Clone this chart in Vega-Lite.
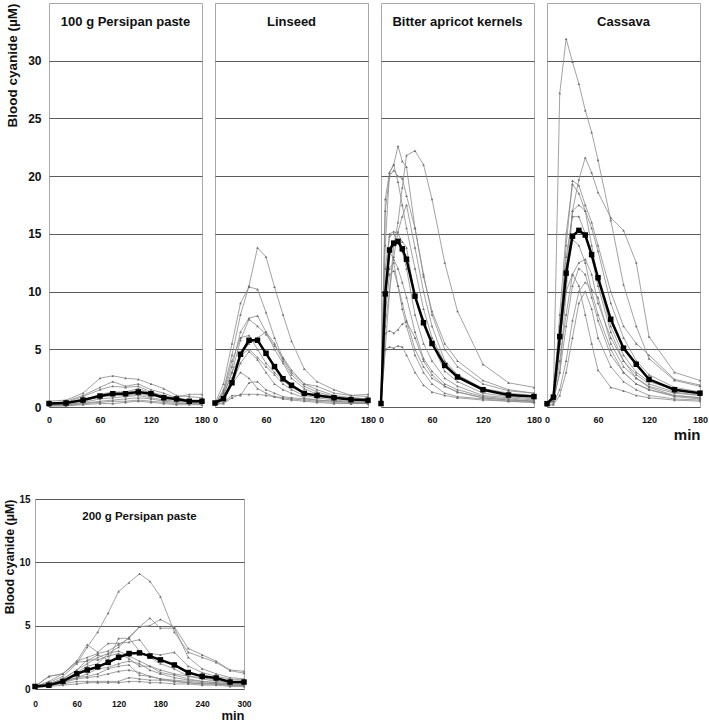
{
"$schema":"https://vega.github.io/schema/vega-lite/v6.json",
"padding":{"left":3,"top":2,"right":5,"bottom":0},
"datasets":{
"p1":[
{"s":"a","t":0,"v":0.5},{"s":"a","t":20,"v":0.6},{"s":"a","t":40,"v":1.2},{"s":"a","t":60,"v":2.5},{"s":"a","t":75,"v":2.7},{"s":"a","t":90,"v":2.5},{"s":"a","t":105,"v":2.4},{"s":"a","t":120,"v":2.0},{"s":"a","t":135,"v":1.6},{"s":"a","t":150,"v":1.0},{"s":"a","t":165,"v":0.9},{"s":"a","t":180,"v":0.8},
{"s":"b","t":0,"v":0.3},{"s":"b","t":20,"v":0.5},{"s":"b","t":40,"v":1.0},{"s":"b","t":60,"v":1.7},{"s":"b","t":75,"v":2.2},{"s":"b","t":90,"v":1.8},{"s":"b","t":105,"v":2.0},{"s":"b","t":120,"v":1.5},{"s":"b","t":135,"v":1.2},{"s":"b","t":150,"v":0.8},{"s":"b","t":165,"v":1.1},{"s":"b","t":180,"v":1.1},
{"s":"c","t":0,"v":0.3},{"s":"c","t":20,"v":0.4},{"s":"c","t":40,"v":0.9},{"s":"c","t":60,"v":1.5},{"s":"c","t":75,"v":1.8},{"s":"c","t":90,"v":1.7},{"s":"c","t":105,"v":1.8},{"s":"c","t":120,"v":1.3},{"s":"c","t":135,"v":1.0},{"s":"c","t":150,"v":0.7},{"s":"c","t":165,"v":0.6},{"s":"c","t":180,"v":0.6},
{"s":"d","t":0,"v":0.2},{"s":"d","t":20,"v":0.3},{"s":"d","t":40,"v":0.6},{"s":"d","t":60,"v":1.1},{"s":"d","t":75,"v":1.3},{"s":"d","t":90,"v":1.3},{"s":"d","t":105,"v":1.6},{"s":"d","t":120,"v":1.2},{"s":"d","t":135,"v":0.9},{"s":"d","t":150,"v":0.8},{"s":"d","t":165,"v":0.6},{"s":"d","t":180,"v":0.5},
{"s":"e","t":0,"v":0.2},{"s":"e","t":20,"v":0.3},{"s":"e","t":40,"v":0.5},{"s":"e","t":60,"v":0.9},{"s":"e","t":75,"v":1.0},{"s":"e","t":90,"v":1.0},{"s":"e","t":105,"v":1.1},{"s":"e","t":120,"v":1.0},{"s":"e","t":135,"v":0.8},{"s":"e","t":150,"v":0.7},{"s":"e","t":165,"v":0.5},{"s":"e","t":180,"v":0.5},
{"s":"f","t":0,"v":0.2},{"s":"f","t":20,"v":0.2},{"s":"f","t":40,"v":0.4},{"s":"f","t":60,"v":0.7},{"s":"f","t":75,"v":0.8},{"s":"f","t":90,"v":0.9},{"s":"f","t":105,"v":1.0},{"s":"f","t":120,"v":0.8},{"s":"f","t":135,"v":0.6},{"s":"f","t":150,"v":0.5},{"s":"f","t":165,"v":0.4},{"s":"f","t":180,"v":0.4},
{"s":"g","t":0,"v":0.1},{"s":"g","t":20,"v":0.2},{"s":"g","t":40,"v":0.3},{"s":"g","t":60,"v":0.5},{"s":"g","t":75,"v":0.6},{"s":"g","t":90,"v":0.7},{"s":"g","t":105,"v":0.8},{"s":"g","t":120,"v":0.7},{"s":"g","t":135,"v":0.5},{"s":"g","t":150,"v":0.4},{"s":"g","t":165,"v":0.3},{"s":"g","t":180,"v":0.3},
{"s":"h","t":0,"v":0.1},{"s":"h","t":20,"v":0.1},{"s":"h","t":40,"v":0.3},{"s":"h","t":60,"v":0.4},{"s":"h","t":75,"v":0.5},{"s":"h","t":90,"v":0.5},{"s":"h","t":105,"v":0.6},{"s":"h","t":120,"v":0.5},{"s":"h","t":135,"v":0.4},{"s":"h","t":150,"v":0.3},{"s":"h","t":165,"v":0.3},{"s":"h","t":180,"v":0.2},
{"s":"i","t":0,"v":0.2},{"s":"i","t":20,"v":0.3},{"s":"i","t":40,"v":0.6},{"s":"i","t":60,"v":0.9},{"s":"i","t":75,"v":1.0},{"s":"i","t":90,"v":1.3},{"s":"i","t":105,"v":1.4},{"s":"i","t":120,"v":1.0},{"s":"i","t":135,"v":0.9},{"s":"i","t":150,"v":0.6},{"s":"i","t":165,"v":0.5},{"s":"i","t":180,"v":0.4},
{"s":"j","t":0,"v":0.1},{"s":"j","t":20,"v":0.1},{"s":"j","t":40,"v":0.2},{"s":"j","t":60,"v":0.3},{"s":"j","t":75,"v":0.3},{"s":"j","t":90,"v":0.4},{"s":"j","t":105,"v":0.5},{"s":"j","t":120,"v":0.4},{"s":"j","t":135,"v":0.3},{"s":"j","t":150,"v":0.2},{"s":"j","t":165,"v":0.2},{"s":"j","t":180,"v":0.2},
{"s":"M","t":0,"v":0.3},{"s":"M","t":20,"v":0.35},{"s":"M","t":40,"v":0.6},{"s":"M","t":60,"v":0.95},{"s":"M","t":75,"v":1.15},{"s":"M","t":90,"v":1.15},{"s":"M","t":105,"v":1.3},{"s":"M","t":120,"v":1.15},{"s":"M","t":135,"v":0.8},{"s":"M","t":150,"v":0.7},{"s":"M","t":165,"v":0.5},{"s":"M","t":180,"v":0.5}
],
"p2":[
{"s":"a","t":0,"v":0.2},{"s":"a","t":10,"v":1.5},{"s":"a","t":20,"v":4.5},{"s":"a","t":30,"v":8.0},{"s":"a","t":40,"v":10.5},{"s":"a","t":50,"v":13.8},{"s":"a","t":60,"v":13.0},{"s":"a","t":70,"v":10.4},{"s":"a","t":80,"v":8.0},{"s":"a","t":90,"v":5.7},{"s":"a","t":105,"v":3.3},{"s":"a","t":120,"v":2.2},{"s":"a","t":140,"v":1.5},{"s":"a","t":160,"v":1.0},{"s":"a","t":180,"v":0.9},
{"s":"b","t":0,"v":0.3},{"s":"b","t":10,"v":2.0},{"s":"b","t":20,"v":5.5},{"s":"b","t":30,"v":9.0},{"s":"b","t":40,"v":10.4},{"s":"b","t":50,"v":10.2},{"s":"b","t":60,"v":8.2},{"s":"b","t":70,"v":6.0},{"s":"b","t":80,"v":4.2},{"s":"b","t":90,"v":3.0},{"s":"b","t":105,"v":2.0},{"s":"b","t":120,"v":1.8},{"s":"b","t":140,"v":1.2},{"s":"b","t":160,"v":1.0},{"s":"b","t":180,"v":1.1},
{"s":"c","t":0,"v":0.3},{"s":"c","t":10,"v":1.2},{"s":"c","t":20,"v":3.5},{"s":"c","t":30,"v":6.5},{"s":"c","t":40,"v":7.7},{"s":"c","t":50,"v":7.9},{"s":"c","t":60,"v":6.5},{"s":"c","t":70,"v":5.0},{"s":"c","t":80,"v":3.8},{"s":"c","t":90,"v":2.5},{"s":"c","t":105,"v":1.6},{"s":"c","t":120,"v":1.1},{"s":"c","t":140,"v":0.9},{"s":"c","t":160,"v":0.8},{"s":"c","t":180,"v":0.7},
{"s":"d","t":0,"v":0.2},{"s":"d","t":10,"v":1.0},{"s":"d","t":20,"v":3.0},{"s":"d","t":30,"v":5.8},{"s":"d","t":40,"v":7.6},{"s":"d","t":50,"v":7.0},{"s":"d","t":60,"v":6.3},{"s":"d","t":70,"v":5.3},{"s":"d","t":80,"v":4.3},{"s":"d","t":90,"v":3.2},{"s":"d","t":105,"v":2.0},{"s":"d","t":120,"v":1.5},{"s":"d","t":140,"v":1.0},{"s":"d","t":160,"v":0.8},{"s":"d","t":180,"v":0.7},
{"s":"e","t":0,"v":0.2},{"s":"e","t":10,"v":0.8},{"s":"e","t":20,"v":2.5},{"s":"e","t":30,"v":4.5},{"s":"e","t":40,"v":5.5},{"s":"e","t":50,"v":6.0},{"s":"e","t":60,"v":6.5},{"s":"e","t":70,"v":5.5},{"s":"e","t":80,"v":4.0},{"s":"e","t":90,"v":2.8},{"s":"e","t":105,"v":1.8},{"s":"e","t":120,"v":1.3},{"s":"e","t":140,"v":0.9},{"s":"e","t":160,"v":0.7},{"s":"e","t":180,"v":0.6},
{"s":"f","t":0,"v":0.3},{"s":"f","t":10,"v":1.0},{"s":"f","t":20,"v":3.0},{"s":"f","t":30,"v":4.5},{"s":"f","t":40,"v":5.0},{"s":"f","t":50,"v":4.3},{"s":"f","t":60,"v":3.5},{"s":"f","t":70,"v":2.8},{"s":"f","t":80,"v":2.0},{"s":"f","t":90,"v":1.5},{"s":"f","t":105,"v":1.0},{"s":"f","t":120,"v":0.8},{"s":"f","t":140,"v":0.6},{"s":"f","t":160,"v":0.5},{"s":"f","t":180,"v":0.4},
{"s":"g","t":0,"v":0.2},{"s":"g","t":10,"v":0.7},{"s":"g","t":20,"v":2.0},{"s":"g","t":30,"v":3.8},{"s":"g","t":40,"v":4.8},{"s":"g","t":50,"v":4.1},{"s":"g","t":60,"v":3.0},{"s":"g","t":70,"v":2.0},{"s":"g","t":80,"v":1.5},{"s":"g","t":90,"v":1.2},{"s":"g","t":105,"v":0.8},{"s":"g","t":120,"v":0.6},{"s":"g","t":140,"v":0.5},{"s":"g","t":160,"v":0.4},{"s":"g","t":180,"v":0.3},
{"s":"h","t":0,"v":0.2},{"s":"h","t":10,"v":0.6},{"s":"h","t":20,"v":2.0},{"s":"h","t":30,"v":3.0},{"s":"h","t":40,"v":2.5},{"s":"h","t":50,"v":1.6},{"s":"h","t":60,"v":1.2},{"s":"h","t":70,"v":0.9},{"s":"h","t":80,"v":0.7},{"s":"h","t":90,"v":0.6},{"s":"h","t":105,"v":0.5},{"s":"h","t":120,"v":0.4},{"s":"h","t":140,"v":0.3},{"s":"h","t":160,"v":0.3},{"s":"h","t":180,"v":0.3},
{"s":"i","t":0,"v":0.2},{"s":"i","t":10,"v":0.4},{"s":"i","t":20,"v":1.0},{"s":"i","t":30,"v":1.0},{"s":"i","t":40,"v":2.1},{"s":"i","t":50,"v":2.2},{"s":"i","t":60,"v":1.5},{"s":"i","t":70,"v":1.2},{"s":"i","t":80,"v":0.9},{"s":"i","t":90,"v":0.8},{"s":"i","t":105,"v":0.7},{"s":"i","t":120,"v":0.6},{"s":"i","t":140,"v":0.5},{"s":"i","t":160,"v":0.4},{"s":"i","t":180,"v":0.4},
{"s":"j","t":0,"v":0.2},{"s":"j","t":10,"v":0.3},{"s":"j","t":20,"v":0.8},{"s":"j","t":30,"v":1.1},{"s":"j","t":40,"v":1.1},{"s":"j","t":50,"v":1.1},{"s":"j","t":60,"v":1.0},{"s":"j","t":70,"v":0.9},{"s":"j","t":80,"v":0.8},{"s":"j","t":90,"v":0.7},{"s":"j","t":105,"v":0.6},{"s":"j","t":120,"v":0.5},{"s":"j","t":140,"v":0.4},{"s":"j","t":160,"v":0.3},{"s":"j","t":180,"v":0.3},
{"s":"k","t":0,"v":0.3},{"s":"k","t":10,"v":1.3},{"s":"k","t":20,"v":4.0},{"s":"k","t":30,"v":6.0},{"s":"k","t":40,"v":6.2},{"s":"k","t":50,"v":5.0},{"s":"k","t":60,"v":3.8},{"s":"k","t":70,"v":3.0},{"s":"k","t":80,"v":2.3},{"s":"k","t":90,"v":1.7},{"s":"k","t":105,"v":1.2},{"s":"k","t":120,"v":1.0},{"s":"k","t":140,"v":0.8},{"s":"k","t":160,"v":0.6},{"s":"k","t":180,"v":0.5},
{"s":"M","t":0,"v":0.35},{"s":"M","t":10,"v":0.72},{"s":"M","t":20,"v":2.1},{"s":"M","t":30,"v":4.57},{"s":"M","t":40,"v":5.78},{"s":"M","t":50,"v":5.78},{"s":"M","t":60,"v":4.65},{"s":"M","t":70,"v":3.5},{"s":"M","t":80,"v":2.45},{"s":"M","t":90,"v":1.88},{"s":"M","t":105,"v":1.18},{"s":"M","t":120,"v":1.0},{"s":"M","t":140,"v":0.8},{"s":"M","t":160,"v":0.64},{"s":"M","t":180,"v":0.58}
],
"p3":[
{"s":"a","t":0,"v":0.3},{"s":"a","t":5,"v":5},{"s":"a","t":10,"v":10},{"s":"a","t":15,"v":14},{"s":"a","t":20,"v":16},{"s":"a","t":25,"v":19},{"s":"a","t":30,"v":21.8},{"s":"a","t":40,"v":22.2},{"s":"a","t":50,"v":21.0},{"s":"a","t":60,"v":18.0},{"s":"a","t":75,"v":12.5},{"s":"a","t":90,"v":8.3},{"s":"a","t":120,"v":3.7},{"s":"a","t":150,"v":2.1},{"s":"a","t":180,"v":1.7},
{"s":"b","t":0,"v":0.3},{"s":"b","t":5,"v":14},{"s":"b","t":10,"v":20.3},{"s":"b","t":15,"v":21.0},{"s":"b","t":20,"v":22.6},{"s":"b","t":25,"v":21.3},{"s":"b","t":30,"v":20.8},{"s":"b","t":40,"v":15.5},{"s":"b","t":50,"v":11.5},{"s":"b","t":60,"v":8.0},{"s":"b","t":75,"v":5.0},{"s":"b","t":90,"v":3.5},{"s":"b","t":120,"v":2.0},{"s":"b","t":150,"v":1.4},{"s":"b","t":180,"v":1.2},
{"s":"c","t":0,"v":0.3},{"s":"c","t":5,"v":18},{"s":"c","t":10,"v":20.3},{"s":"c","t":15,"v":21.0},{"s":"c","t":20,"v":19.5},{"s":"c","t":25,"v":17.5},{"s":"c","t":30,"v":15.5},{"s":"c","t":40,"v":12.0},{"s":"c","t":50,"v":8.5},{"s":"c","t":60,"v":6.0},{"s":"c","t":75,"v":3.8},{"s":"c","t":90,"v":2.7},{"s":"c","t":120,"v":1.6},{"s":"c","t":150,"v":1.2},{"s":"c","t":180,"v":1.0},
{"s":"d","t":0,"v":0.3},{"s":"d","t":5,"v":17},{"s":"d","t":10,"v":20.0},{"s":"d","t":15,"v":20.5},{"s":"d","t":20,"v":20.0},{"s":"d","t":25,"v":19.8},{"s":"d","t":30,"v":18.3},{"s":"d","t":40,"v":15.5},{"s":"d","t":50,"v":11.3},{"s":"d","t":60,"v":8.3},{"s":"d","t":75,"v":5.5},{"s":"d","t":90,"v":4.0},{"s":"d","t":120,"v":2.3},{"s":"d","t":150,"v":1.5},{"s":"d","t":180,"v":1.2},
{"s":"e","t":0,"v":0.3},{"s":"e","t":5,"v":10},{"s":"e","t":10,"v":15},{"s":"e","t":15,"v":15.2},{"s":"e","t":20,"v":15.0},{"s":"e","t":25,"v":14.3},{"s":"e","t":30,"v":13.8},{"s":"e","t":40,"v":9.5},{"s":"e","t":50,"v":7.6},{"s":"e","t":60,"v":5.5},{"s":"e","t":75,"v":3.1},{"s":"e","t":90,"v":2.2},{"s":"e","t":120,"v":1.2},{"s":"e","t":150,"v":0.9},{"s":"e","t":180,"v":0.7},
{"s":"f","t":0,"v":0.3},{"s":"f","t":5,"v":12},{"s":"f","t":10,"v":14.8},{"s":"f","t":15,"v":15},{"s":"f","t":20,"v":14.2},{"s":"f","t":25,"v":13.5},{"s":"f","t":30,"v":12.0},{"s":"f","t":40,"v":8.0},{"s":"f","t":50,"v":5.5},{"s":"f","t":60,"v":4.0},{"s":"f","t":75,"v":2.5},{"s":"f","t":90,"v":1.8},{"s":"f","t":120,"v":1.0},{"s":"f","t":150,"v":0.8},{"s":"f","t":180,"v":0.6},
{"s":"g","t":0,"v":0.3},{"s":"g","t":5,"v":9},{"s":"g","t":10,"v":13.5},{"s":"g","t":15,"v":12.8},{"s":"g","t":20,"v":12.0},{"s":"g","t":25,"v":10.8},{"s":"g","t":30,"v":9.5},{"s":"g","t":40,"v":6.5},{"s":"g","t":50,"v":4.2},{"s":"g","t":60,"v":3.1},{"s":"g","t":75,"v":2.0},{"s":"g","t":90,"v":1.5},{"s":"g","t":120,"v":0.9},{"s":"g","t":150,"v":0.7},{"s":"g","t":180,"v":0.5},
{"s":"h","t":0,"v":0.3},{"s":"h","t":5,"v":8},{"s":"h","t":10,"v":11.5},{"s":"h","t":15,"v":11.8},{"s":"h","t":20,"v":10.5},{"s":"h","t":25,"v":9.0},{"s":"h","t":30,"v":7.5},{"s":"h","t":40,"v":5.0},{"s":"h","t":50,"v":3.5},{"s":"h","t":60,"v":2.5},{"s":"h","t":75,"v":1.8},{"s":"h","t":90,"v":1.3},{"s":"h","t":120,"v":0.8},{"s":"h","t":150,"v":0.6},{"s":"h","t":180,"v":0.5},
{"s":"i","t":0,"v":0.3},{"s":"i","t":5,"v":6.4},{"s":"i","t":10,"v":6.6},{"s":"i","t":15,"v":6.4},{"s":"i","t":20,"v":6.7},{"s":"i","t":25,"v":7.2},{"s":"i","t":30,"v":7.4},{"s":"i","t":40,"v":6.0},{"s":"i","t":50,"v":4.0},{"s":"i","t":60,"v":2.8},{"s":"i","t":75,"v":1.8},{"s":"i","t":90,"v":1.3},{"s":"i","t":120,"v":0.8},{"s":"i","t":150,"v":0.6},{"s":"i","t":180,"v":0.5},
{"s":"j","t":0,"v":0.3},{"s":"j","t":5,"v":5.0},{"s":"j","t":10,"v":5.2},{"s":"j","t":15,"v":5.1},{"s":"j","t":20,"v":5.3},{"s":"j","t":25,"v":5.2},{"s":"j","t":30,"v":4.5},{"s":"j","t":40,"v":3.0},{"s":"j","t":50,"v":1.9},{"s":"j","t":60,"v":1.3},{"s":"j","t":75,"v":1.0},{"s":"j","t":90,"v":0.8},{"s":"j","t":120,"v":0.6},{"s":"j","t":150,"v":0.5},{"s":"j","t":180,"v":0.4},
{"s":"k","t":0,"v":0.3},{"s":"k","t":5,"v":10},{"s":"k","t":10,"v":12},{"s":"k","t":15,"v":12.5},{"s":"k","t":20,"v":10.5},{"s":"k","t":25,"v":8.5},{"s":"k","t":30,"v":7.0},{"s":"k","t":40,"v":4.5},{"s":"k","t":50,"v":3.0},{"s":"k","t":60,"v":2.0},{"s":"k","t":75,"v":1.2},{"s":"k","t":90,"v":0.9},{"s":"k","t":120,"v":0.7},{"s":"k","t":150,"v":0.5},{"s":"k","t":180,"v":0.4},
{"s":"l","t":0,"v":0.3},{"s":"l","t":5,"v":7},{"s":"l","t":10,"v":10},{"s":"l","t":15,"v":13},{"s":"l","t":20,"v":15.2},{"s":"l","t":25,"v":16.5},{"s":"l","t":30,"v":17.5},{"s":"l","t":40,"v":13.8},{"s":"l","t":50,"v":10.0},{"s":"l","t":60,"v":7.0},{"s":"l","t":75,"v":4.0},{"s":"l","t":90,"v":2.8},{"s":"l","t":120,"v":1.6},{"s":"l","t":150,"v":1.1},{"s":"l","t":180,"v":0.9},
{"s":"M","t":0,"v":0.3},{"s":"M","t":5,"v":9.8},{"s":"M","t":10,"v":13.6},{"s":"M","t":15,"v":14.2},{"s":"M","t":20,"v":14.35},{"s":"M","t":25,"v":13.7},{"s":"M","t":30,"v":12.8},{"s":"M","t":40,"v":9.6},{"s":"M","t":50,"v":7.3},{"s":"M","t":60,"v":5.5},{"s":"M","t":75,"v":3.6},{"s":"M","t":90,"v":2.6},{"s":"M","t":120,"v":1.5},{"s":"M","t":150,"v":1.04},{"s":"M","t":180,"v":0.9}
],
"p4":[
{"s":"a","t":0,"v":0.2},{"s":"a","t":7.5,"v":1.0},{"s":"a","t":15,"v":27.2},{"s":"a","t":22.5,"v":31.9},{"s":"a","t":30,"v":29.9},{"s":"a","t":37.5,"v":28.0},{"s":"a","t":45,"v":25.7},{"s":"a","t":52.5,"v":23.8},{"s":"a","t":60,"v":21.4},{"s":"a","t":75,"v":16.2},{"s":"a","t":90,"v":10.6},{"s":"a","t":105,"v":7.0},{"s":"a","t":120,"v":4.2},{"s":"a","t":150,"v":2.3},{"s":"a","t":180,"v":1.8},
{"s":"b","t":0,"v":0.2},{"s":"b","t":7.5,"v":0.5},{"s":"b","t":15,"v":3.0},{"s":"b","t":22.5,"v":10.0},{"s":"b","t":30,"v":17.0},{"s":"b","t":37.5,"v":19.7},{"s":"b","t":45,"v":21.6},{"s":"b","t":52.5,"v":20.3},{"s":"b","t":60,"v":18.6},{"s":"b","t":75,"v":16.4},{"s":"b","t":90,"v":15.3},{"s":"b","t":105,"v":12.5},{"s":"b","t":120,"v":6.1},{"s":"b","t":150,"v":3.0},{"s":"b","t":180,"v":2.3},
{"s":"c","t":0,"v":0.2},{"s":"c","t":7.5,"v":0.6},{"s":"c","t":15,"v":6.0},{"s":"c","t":22.5,"v":14.0},{"s":"c","t":30,"v":19.6},{"s":"c","t":37.5,"v":19.2},{"s":"c","t":45,"v":17.5},{"s":"c","t":52.5,"v":16.0},{"s":"c","t":60,"v":14.0},{"s":"c","t":75,"v":10.0},{"s":"c","t":90,"v":7.0},{"s":"c","t":105,"v":5.5},{"s":"c","t":120,"v":4.5},{"s":"c","t":150,"v":2.4},{"s":"c","t":180,"v":1.9},
{"s":"d","t":0,"v":0.2},{"s":"d","t":7.5,"v":0.8},{"s":"d","t":15,"v":8},{"s":"d","t":22.5,"v":15},{"s":"d","t":30,"v":19.3},{"s":"d","t":37.5,"v":18.5},{"s":"d","t":45,"v":17.0},{"s":"d","t":52.5,"v":14.0},{"s":"d","t":60,"v":11.0},{"s":"d","t":75,"v":7.0},{"s":"d","t":90,"v":4.5},{"s":"d","t":105,"v":3.0},{"s":"d","t":120,"v":2.2},{"s":"d","t":150,"v":1.5},{"s":"d","t":180,"v":1.2},
{"s":"e","t":0,"v":0.3},{"s":"e","t":7.5,"v":0.5},{"s":"e","t":15,"v":5},{"s":"e","t":22.5,"v":12},{"s":"e","t":30,"v":17.0},{"s":"e","t":37.5,"v":17.5},{"s":"e","t":45,"v":17.0},{"s":"e","t":52.5,"v":15.5},{"s":"e","t":60,"v":13.5},{"s":"e","t":75,"v":9.0},{"s":"e","t":90,"v":6.0},{"s":"e","t":105,"v":4.0},{"s":"e","t":120,"v":2.8},{"s":"e","t":150,"v":1.7},{"s":"e","t":180,"v":1.3},
{"s":"f","t":0,"v":0.2},{"s":"f","t":7.5,"v":1.0},{"s":"f","t":15,"v":7},{"s":"f","t":22.5,"v":13},{"s":"f","t":30,"v":16.5},{"s":"f","t":37.5,"v":16.5},{"s":"f","t":45,"v":15.0},{"s":"f","t":52.5,"v":13.0},{"s":"f","t":60,"v":10.5},{"s":"f","t":75,"v":6.5},{"s":"f","t":90,"v":4.0},{"s":"f","t":105,"v":2.8},{"s":"f","t":120,"v":2.0},{"s":"f","t":150,"v":1.3},{"s":"f","t":180,"v":1.0},
{"s":"g","t":0,"v":0.3},{"s":"g","t":7.5,"v":0.6},{"s":"g","t":15,"v":4},{"s":"g","t":22.5,"v":8},{"s":"g","t":30,"v":11.5},{"s":"g","t":37.5,"v":12.5},{"s":"g","t":45,"v":12.8},{"s":"g","t":52.5,"v":11.5},{"s":"g","t":60,"v":9.0},{"s":"g","t":75,"v":6.0},{"s":"g","t":90,"v":4.0},{"s":"g","t":105,"v":2.5},{"s":"g","t":120,"v":1.8},{"s":"g","t":150,"v":1.2},{"s":"g","t":180,"v":1.0},
{"s":"h","t":0,"v":0.2},{"s":"h","t":7.5,"v":0.8},{"s":"h","t":15,"v":6},{"s":"h","t":22.5,"v":10},{"s":"h","t":30,"v":11.5},{"s":"h","t":37.5,"v":10.5},{"s":"h","t":45,"v":8.0},{"s":"h","t":52.5,"v":5.5},{"s":"h","t":60,"v":3.2},{"s":"h","t":75,"v":1.7},{"s":"h","t":90,"v":1.4},{"s":"h","t":105,"v":1.0},{"s":"h","t":120,"v":0.8},{"s":"h","t":150,"v":0.6},{"s":"h","t":180,"v":0.5},
{"s":"i","t":0,"v":0.1},{"s":"i","t":7.5,"v":0.3},{"s":"i","t":15,"v":1.5},{"s":"i","t":22.5,"v":4},{"s":"i","t":30,"v":7.5},{"s":"i","t":37.5,"v":10.0},{"s":"i","t":45,"v":10.8},{"s":"i","t":52.5,"v":10.2},{"s":"i","t":60,"v":9.5},{"s":"i","t":75,"v":5.5},{"s":"i","t":90,"v":3.5},{"s":"i","t":105,"v":2.5},{"s":"i","t":120,"v":1.7},{"s":"i","t":150,"v":1.0},{"s":"i","t":180,"v":0.8},
{"s":"j","t":0,"v":0.2},{"s":"j","t":7.5,"v":0.5},{"s":"j","t":15,"v":3},{"s":"j","t":22.5,"v":7},{"s":"j","t":30,"v":10.5},{"s":"j","t":37.5,"v":12.0},{"s":"j","t":45,"v":11.5},{"s":"j","t":52.5,"v":9.5},{"s":"j","t":60,"v":7.5},{"s":"j","t":75,"v":4.5},{"s":"j","t":90,"v":3.0},{"s":"j","t":105,"v":2.0},{"s":"j","t":120,"v":1.5},{"s":"j","t":150,"v":0.9},{"s":"j","t":180,"v":0.7},
{"s":"k","t":0,"v":0.1},{"s":"k","t":7.5,"v":0.2},{"s":"k","t":15,"v":1.0},{"s":"k","t":22.5,"v":3.0},{"s":"k","t":30,"v":6.0},{"s":"k","t":37.5,"v":9.0},{"s":"k","t":45,"v":10.0},{"s":"k","t":52.5,"v":8.5},{"s":"k","t":60,"v":6.0},{"s":"k","t":75,"v":3.5},{"s":"k","t":90,"v":2.2},{"s":"k","t":105,"v":1.5},{"s":"k","t":120,"v":1.0},{"s":"k","t":150,"v":0.7},{"s":"k","t":180,"v":0.6},
{"s":"l","t":0,"v":0.2},{"s":"l","t":7.5,"v":0.7},{"s":"l","t":15,"v":5.5},{"s":"l","t":22.5,"v":11},{"s":"l","t":30,"v":14.5},{"s":"l","t":37.5,"v":14.0},{"s":"l","t":45,"v":12.5},{"s":"l","t":52.5,"v":10.0},{"s":"l","t":60,"v":8.0},{"s":"l","t":75,"v":5.0},{"s":"l","t":90,"v":3.0},{"s":"l","t":105,"v":2.0},{"s":"l","t":120,"v":1.5},{"s":"l","t":150,"v":1.0},{"s":"l","t":180,"v":0.8},
{"s":"M","t":0,"v":0.29},{"s":"M","t":7.5,"v":0.86},{"s":"M","t":15,"v":6.1},{"s":"M","t":22.5,"v":11.6},{"s":"M","t":30,"v":14.8},{"s":"M","t":37.5,"v":15.3},{"s":"M","t":45,"v":14.9},{"s":"M","t":52.5,"v":13.2},{"s":"M","t":60,"v":11.2},{"s":"M","t":75,"v":7.6},{"s":"M","t":90,"v":5.1},{"s":"M","t":105,"v":3.7},{"s":"M","t":120,"v":2.4},{"s":"M","t":150,"v":1.5},{"s":"M","t":180,"v":1.2}
],
"p5":[
{"s":"a","t":0,"v":0.2},{"s":"a","t":20,"v":0.5},{"s":"a","t":40,"v":1.0},{"s":"a","t":60,"v":2.0},{"s":"a","t":75,"v":3.3},{"s":"a","t":90,"v":4.5},{"s":"a","t":105,"v":6.0},{"s":"a","t":120,"v":7.7},{"s":"a","t":135,"v":8.4},{"s":"a","t":150,"v":9.1},{"s":"a","t":165,"v":8.5},{"s":"a","t":180,"v":7.3},{"s":"a","t":200,"v":4.5},{"s":"a","t":220,"v":2.9},{"s":"a","t":240,"v":2.5},{"s":"a","t":260,"v":2.1},{"s":"a","t":280,"v":1.45},{"s":"a","t":300,"v":1.25},
{"s":"b","t":0,"v":0.2},{"s":"b","t":20,"v":0.6},{"s":"b","t":40,"v":1.2},{"s":"b","t":60,"v":2.2},{"s":"b","t":75,"v":2.5},{"s":"b","t":90,"v":2.8},{"s":"b","t":105,"v":3.0},{"s":"b","t":120,"v":3.5},{"s":"b","t":135,"v":4.0},{"s":"b","t":150,"v":4.9},{"s":"b","t":165,"v":5.6},{"s":"b","t":180,"v":4.8},{"s":"b","t":200,"v":4.8},{"s":"b","t":220,"v":2.5},{"s":"b","t":240,"v":1.6},{"s":"b","t":260,"v":1.2},{"s":"b","t":280,"v":0.9},{"s":"b","t":300,"v":0.8},
{"s":"c","t":0,"v":0.2},{"s":"c","t":20,"v":0.4},{"s":"c","t":40,"v":0.8},{"s":"c","t":60,"v":1.5},{"s":"c","t":75,"v":2.0},{"s":"c","t":90,"v":2.5},{"s":"c","t":105,"v":2.8},{"s":"c","t":120,"v":3.3},{"s":"c","t":135,"v":4.1},{"s":"c","t":150,"v":4.9},{"s":"c","t":165,"v":5.0},{"s":"c","t":180,"v":5.5},{"s":"c","t":200,"v":4.9},{"s":"c","t":220,"v":3.2},{"s":"c","t":240,"v":2.7},{"s":"c","t":260,"v":2.2},{"s":"c","t":280,"v":1.5},{"s":"c","t":300,"v":1.4},
{"s":"d","t":0,"v":0.2},{"s":"d","t":20,"v":1.0},{"s":"d","t":40,"v":1.2},{"s":"d","t":60,"v":2.2},{"s":"d","t":75,"v":3.5},{"s":"d","t":90,"v":2.9},{"s":"d","t":105,"v":3.6},{"s":"d","t":120,"v":3.6},{"s":"d","t":135,"v":3.7},{"s":"d","t":150,"v":3.9},{"s":"d","t":165,"v":2.8},{"s":"d","t":180,"v":2.7},{"s":"d","t":200,"v":2.9},{"s":"d","t":220,"v":1.8},{"s":"d","t":240,"v":1.3},{"s":"d","t":260,"v":1.0},{"s":"d","t":280,"v":0.8},{"s":"d","t":300,"v":0.7},
{"s":"e","t":0,"v":0.2},{"s":"e","t":20,"v":1.0},{"s":"e","t":40,"v":1.2},{"s":"e","t":60,"v":2.1},{"s":"e","t":75,"v":2.2},{"s":"e","t":90,"v":2.7},{"s":"e","t":105,"v":2.3},{"s":"e","t":120,"v":4.0},{"s":"e","t":135,"v":4.0},{"s":"e","t":150,"v":3.0},{"s":"e","t":165,"v":2.5},{"s":"e","t":180,"v":2.0},{"s":"e","t":200,"v":1.6},{"s":"e","t":220,"v":1.0},{"s":"e","t":240,"v":0.9},{"s":"e","t":260,"v":0.7},{"s":"e","t":280,"v":0.5},{"s":"e","t":300,"v":0.5},
{"s":"f","t":0,"v":0.2},{"s":"f","t":20,"v":0.4},{"s":"f","t":40,"v":0.7},{"s":"f","t":60,"v":1.3},{"s":"f","t":75,"v":1.8},{"s":"f","t":90,"v":2.0},{"s":"f","t":105,"v":2.8},{"s":"f","t":120,"v":3.0},{"s":"f","t":135,"v":2.6},{"s":"f","t":150,"v":2.2},{"s":"f","t":165,"v":1.8},{"s":"f","t":180,"v":1.3},{"s":"f","t":200,"v":1.1},{"s":"f","t":220,"v":0.8},{"s":"f","t":240,"v":0.6},{"s":"f","t":260,"v":0.5},{"s":"f","t":280,"v":0.4},{"s":"f","t":300,"v":0.4},
{"s":"g","t":0,"v":0.2},{"s":"g","t":20,"v":0.3},{"s":"g","t":40,"v":0.6},{"s":"g","t":60,"v":0.9},{"s":"g","t":75,"v":1.2},{"s":"g","t":90,"v":1.6},{"s":"g","t":105,"v":1.7},{"s":"g","t":120,"v":2.0},{"s":"g","t":135,"v":2.2},{"s":"g","t":150,"v":2.0},{"s":"g","t":165,"v":1.5},{"s":"g","t":180,"v":1.2},{"s":"g","t":200,"v":0.9},{"s":"g","t":220,"v":0.7},{"s":"g","t":240,"v":0.6},{"s":"g","t":260,"v":0.5},{"s":"g","t":280,"v":0.4},{"s":"g","t":300,"v":0.4},
{"s":"h","t":0,"v":0.2},{"s":"h","t":20,"v":0.3},{"s":"h","t":40,"v":0.5},{"s":"h","t":60,"v":0.8},{"s":"h","t":75,"v":0.9},{"s":"h","t":90,"v":1.0},{"s":"h","t":105,"v":1.2},{"s":"h","t":120,"v":1.4},{"s":"h","t":135,"v":1.5},{"s":"h","t":150,"v":1.3},{"s":"h","t":165,"v":1.0},{"s":"h","t":180,"v":0.8},{"s":"h","t":200,"v":0.6},{"s":"h","t":220,"v":0.5},{"s":"h","t":240,"v":0.4},{"s":"h","t":260,"v":0.4},{"s":"h","t":280,"v":0.3},{"s":"h","t":300,"v":0.3},
{"s":"i","t":0,"v":0.2},{"s":"i","t":20,"v":0.3},{"s":"i","t":40,"v":0.4},{"s":"i","t":60,"v":0.6},{"s":"i","t":75,"v":0.6},{"s":"i","t":90,"v":0.6},{"s":"i","t":105,"v":0.6},{"s":"i","t":120,"v":0.6},{"s":"i","t":135,"v":0.9},{"s":"i","t":150,"v":0.8},{"s":"i","t":165,"v":0.7},{"s":"i","t":180,"v":0.7},{"s":"i","t":200,"v":0.6},{"s":"i","t":220,"v":0.5},{"s":"i","t":240,"v":0.4},{"s":"i","t":260,"v":0.4},{"s":"i","t":280,"v":0.3},{"s":"i","t":300,"v":0.3},
{"s":"j","t":0,"v":0.1},{"s":"j","t":20,"v":0.2},{"s":"j","t":40,"v":0.3},{"s":"j","t":60,"v":0.4},{"s":"j","t":75,"v":0.5},{"s":"j","t":90,"v":0.5},{"s":"j","t":105,"v":0.5},{"s":"j","t":120,"v":0.5},{"s":"j","t":135,"v":0.6},{"s":"j","t":150,"v":0.6},{"s":"j","t":165,"v":0.5},{"s":"j","t":180,"v":0.5},{"s":"j","t":200,"v":0.4},{"s":"j","t":220,"v":0.4},{"s":"j","t":240,"v":0.3},{"s":"j","t":260,"v":0.3},{"s":"j","t":280,"v":0.2},{"s":"j","t":300,"v":0.2},
{"s":"k","t":0,"v":0.2},{"s":"k","t":20,"v":0.4},{"s":"k","t":40,"v":0.8},{"s":"k","t":60,"v":1.5},{"s":"k","t":75,"v":2.3},{"s":"k","t":90,"v":2.3},{"s":"k","t":105,"v":2.6},{"s":"k","t":120,"v":2.8},{"s":"k","t":135,"v":2.4},{"s":"k","t":150,"v":1.8},{"s":"k","t":165,"v":1.8},{"s":"k","t":180,"v":1.5},{"s":"k","t":200,"v":1.2},{"s":"k","t":220,"v":1.0},{"s":"k","t":240,"v":0.8},{"s":"k","t":260,"v":0.6},{"s":"k","t":280,"v":0.5},{"s":"k","t":300,"v":0.4},
{"s":"l","t":0,"v":0.2},{"s":"l","t":20,"v":0.3},{"s":"l","t":40,"v":0.5},{"s":"l","t":60,"v":0.9},{"s":"l","t":75,"v":1.0},{"s":"l","t":90,"v":1.2},{"s":"l","t":105,"v":1.6},{"s":"l","t":120,"v":1.8},{"s":"l","t":135,"v":1.9},{"s":"l","t":150,"v":1.1},{"s":"l","t":165,"v":1.0},{"s":"l","t":180,"v":0.8},{"s":"l","t":200,"v":0.7},{"s":"l","t":220,"v":0.6},{"s":"l","t":240,"v":0.5},{"s":"l","t":260,"v":0.4},{"s":"l","t":280,"v":0.3},{"s":"l","t":300,"v":0.3},
{"s":"M","t":0,"v":0.2},{"s":"M","t":20,"v":0.3},{"s":"M","t":40,"v":0.6},{"s":"M","t":60,"v":1.2},{"s":"M","t":75,"v":1.5},{"s":"M","t":90,"v":1.75},{"s":"M","t":105,"v":2.1},{"s":"M","t":120,"v":2.5},{"s":"M","t":135,"v":2.8},{"s":"M","t":150,"v":2.85},{"s":"M","t":165,"v":2.6},{"s":"M","t":180,"v":2.3},{"s":"M","t":200,"v":1.9},{"s":"M","t":220,"v":1.3},{"s":"M","t":240,"v":1.0},{"s":"M","t":260,"v":0.87},{"s":"M","t":280,"v":0.55},{"s":"M","t":300,"v":0.55}
]
},
"vconcat":[
{"hconcat":[
{"width":0.5,"height":404,"data":{"values":[{}]},"mark":{"type":"rule","opacity":0},"encoding":{},"view":{"stroke":null}},
{"width":153,"height":404,"data":{"name":"p1"},
"title":{"text":"100 g Persipan paste","offset":-26,"fontSize":13,"fontWeight":"bold","color":"#111","anchor":"middle"},
"encoding":{"x":{"field":"t","type":"quantitative","scale":{"domain":[0,180]},"axis":{"values":[0,60,120,180],"title":null,"labelFontSize":9,"labelPadding":8,"labelFlush":false,"grid":false}},
"y":{"field":"v","type":"quantitative","scale":{"domain":[0,35]},"axis":{"values":[0,5,10,15,20,25,30],"title":"Blood cyanide (µM)","titleAnchor":"end","titleFontSize":13.5,"titleFontWeight":"bold","titlePadding":8,"labelFontSize":12,"labelPadding":8,"labelFlush":false,"grid":true}}},
"layer":[
{"transform":[{"filter":"datum.s != 'M'"}],"mark":{"type":"line","color":"#8a8a8a","strokeWidth":0.8,"point":{"shape":"triangle-up","size":7,"color":"#707070","filled":true}},"encoding":{"detail":{"field":"s"}}},
{"transform":[{"filter":"datum.s == 'M'"}],"mark":{"type":"line","color":"#000","strokeWidth":2.5,"point":{"shape":"square","size":30,"color":"#000","filled":true}}}
]},
{"width":153,"height":404,"data":{"name":"p2"},
"title":{"text":"Linseed","offset":-26,"fontSize":13,"fontWeight":"bold","color":"#111","anchor":"middle"},
"encoding":{"x":{"field":"t","type":"quantitative","scale":{"domain":[0,180]},"axis":{"values":[0,60,120,180],"title":null,"labelFontSize":9,"labelPadding":8,"labelFlush":false,"grid":false}},
"y":{"field":"v","type":"quantitative","scale":{"domain":[0,35]},"axis":{"values":[0,5,10,15,20,25,30],"title":null,"labels":false,"grid":true}}},
"layer":[
{"transform":[{"filter":"datum.s != 'M'"}],"mark":{"type":"line","color":"#8a8a8a","strokeWidth":0.8,"point":{"shape":"triangle-up","size":7,"color":"#707070","filled":true}},"encoding":{"detail":{"field":"s"}}},
{"transform":[{"filter":"datum.s == 'M'"}],"mark":{"type":"line","color":"#000","strokeWidth":2.5,"point":{"shape":"square","size":30,"color":"#000","filled":true}}}
]},
{"width":153,"height":404,"data":{"name":"p3"},
"title":{"text":"Bitter apricot kernels","offset":-26,"fontSize":13,"fontWeight":"bold","color":"#111","anchor":"middle"},
"encoding":{"x":{"field":"t","type":"quantitative","scale":{"domain":[0,180]},"axis":{"values":[0,60,120,180],"title":null,"labelFontSize":9,"labelPadding":8,"labelFlush":false,"grid":false}},
"y":{"field":"v","type":"quantitative","scale":{"domain":[0,35]},"axis":{"values":[0,5,10,15,20,25,30],"title":null,"labels":false,"grid":true}}},
"layer":[
{"transform":[{"filter":"datum.s != 'M'"}],"mark":{"type":"line","color":"#8a8a8a","strokeWidth":0.8,"point":{"shape":"triangle-up","size":7,"color":"#707070","filled":true}},"encoding":{"detail":{"field":"s"}}},
{"transform":[{"filter":"datum.s == 'M'"}],"mark":{"type":"line","color":"#000","strokeWidth":2.5,"point":{"shape":"square","size":30,"color":"#000","filled":true}}}
]},
{"width":153,"height":404,"data":{"name":"p4"},
"title":{"text":"Cassava","offset":-26,"fontSize":13,"fontWeight":"bold","color":"#111","anchor":"middle"},
"encoding":{"x":{"field":"t","type":"quantitative","scale":{"domain":[0,180]},"axis":{"values":[0,60,120,180],"title":"min","titleAnchor":"end","titleFontSize":15,"titleFontWeight":"bold","titlePadding":3,"labelFontSize":9,"labelPadding":8,"labelFlush":false,"grid":false}},
"y":{"field":"v","type":"quantitative","scale":{"domain":[0,35]},"axis":{"values":[0,5,10,15,20,25,30],"title":null,"labels":false,"grid":true}}},
"layer":[
{"transform":[{"filter":"datum.s != 'M'"}],"mark":{"type":"line","color":"#8a8a8a","strokeWidth":0.8,"point":{"shape":"triangle-up","size":7,"color":"#707070","filled":true}},"encoding":{"detail":{"field":"s"}}},
{"transform":[{"filter":"datum.s == 'M'"}],"mark":{"type":"line","color":"#000","strokeWidth":2.5,"point":{"shape":"square","size":30,"color":"#000","filled":true}}}
]}
],"spacing":13,"bounds":"flush"},
{"width":209,"height":190,"data":{"name":"p5"},
"title":{"text":"200 g Persipan paste","offset":-28,"fontSize":11.5,"fontWeight":"bold","color":"#111","anchor":"middle"},
"encoding":{"x":{"field":"t","type":"quantitative","scale":{"domain":[0,300]},"axis":{"values":[0,60,120,180,240,300],"title":"min","titleAnchor":"end","titleFontSize":13,"titleFontWeight":"bold","titlePadding":2,"labelFontSize":8.5,"labelPadding":10,"labelFlush":false,"grid":false}},
"y":{"field":"v","type":"quantitative","scale":{"domain":[0,15]},"axis":{"values":[0,5,10,15],"title":"Blood cyanide (µM)","titleAnchor":"end","titleFontSize":12.5,"titleFontWeight":"bold","titlePadding":2,"labelFontSize":10,"labelPadding":5,"labelFlush":false,"grid":true}}},
"layer":[
{"transform":[{"filter":"datum.s != 'M'"}],"mark":{"type":"line","color":"#8a8a8a","strokeWidth":0.8,"point":{"shape":"triangle-up","size":7,"color":"#707070","filled":true}},"encoding":{"detail":{"field":"s"}}},
{"transform":[{"filter":"datum.s == 'M'"}],"mark":{"type":"line","color":"#000","strokeWidth":2.5,"point":{"shape":"square","size":30,"color":"#000","filled":true}}}
]}
],
"spacing":50,
"config":{
"font":"Liberation Sans",
"view":{"stroke":"#a8a8a8","strokeWidth":1},
"axis":{"ticks":false,"domain":false,"gridColor":"#5a5a5a","gridWidth":1,"gridOpacity":1,"labelColor":"#111","labelFontWeight":"bold","labelFont":"Liberation Sans","titleColor":"#111","titleFont":"Liberation Sans"}
}
}
